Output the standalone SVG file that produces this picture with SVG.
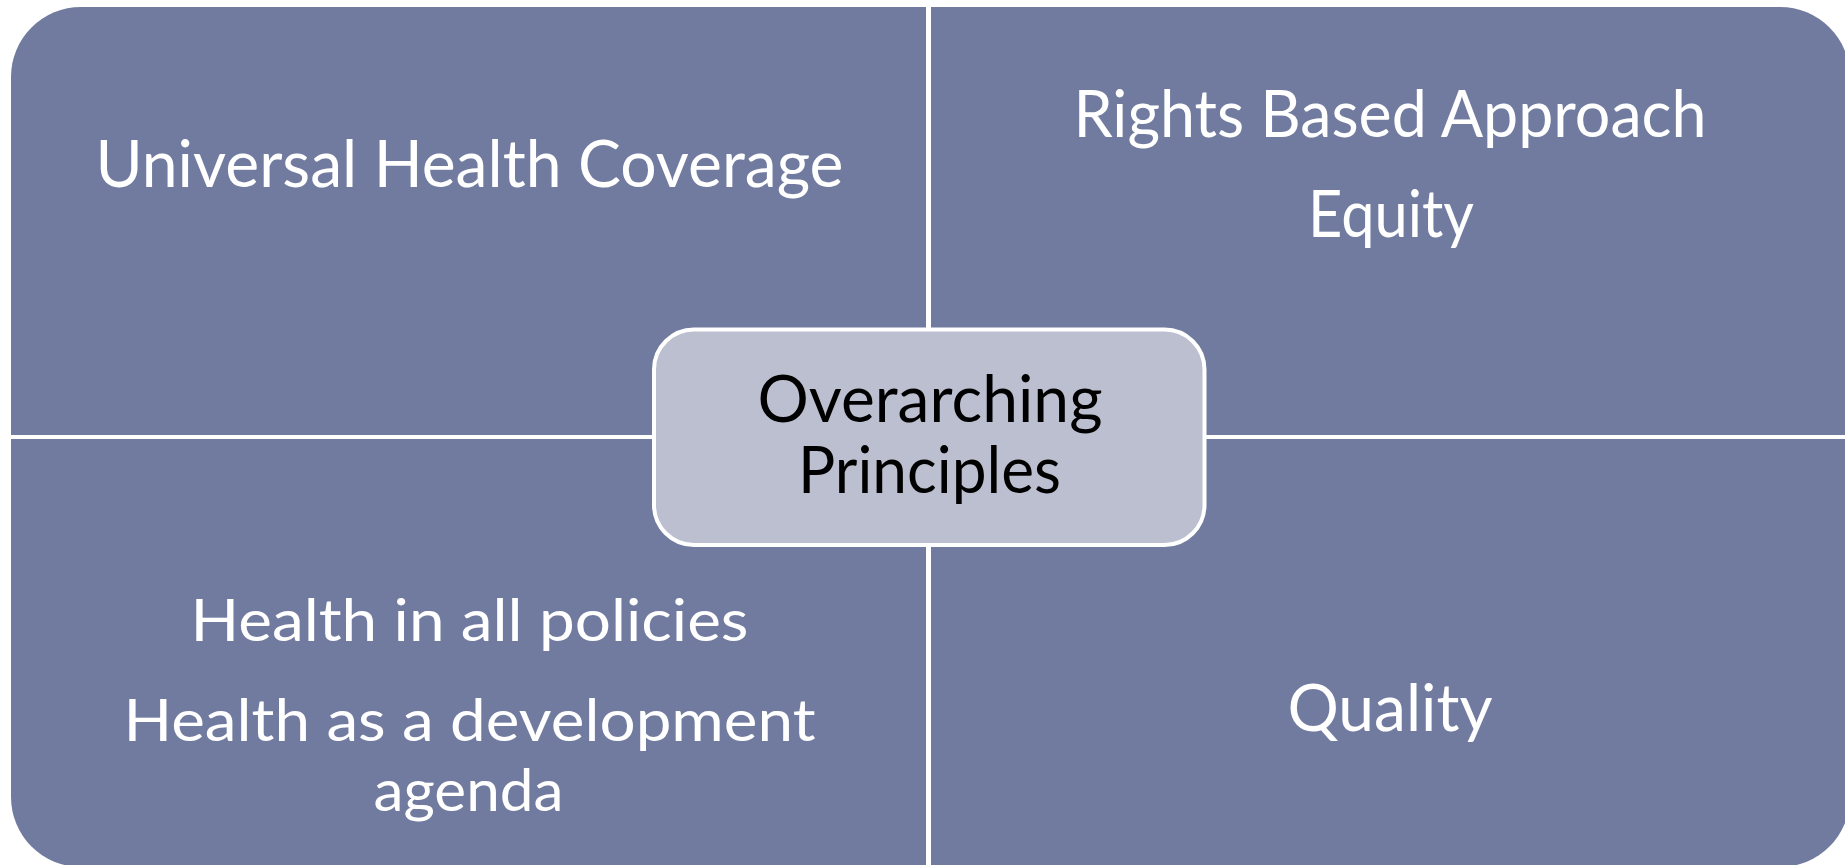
<svg xmlns="http://www.w3.org/2000/svg" width="1845" height="865" viewBox="0 0 1845 865">
<style>
.q{fill:#717B9F;}
.t{font-family:Lato,"Open Sans","Liberation Sans",sans-serif;font-size:65px;fill:#FFFFFF;text-anchor:middle;}
.s{font-size:58px;}
.c{font-family:Lato,"Open Sans","Liberation Sans",sans-serif;font-size:65px;fill:#000000;text-anchor:middle;}
</style>
<rect width="1845" height="865" fill="#FFFFFF"/>
<g id="quadrant-tl">
<path class="q" d="M11,435 V77 A70,70 0 0 1 81,7 H926 V435 Z"/>
<text class="t" x="469.5" y="187" textLength="748" lengthAdjust="spacingAndGlyphs">Universal Health Coverage</text>
</g>
<g id="quadrant-tr">
<path class="q" d="M931,7 H1780 A70,70 0 0 1 1850,77 V435 H931 Z"/>
<text class="t" x="1390" y="137" textLength="633" lengthAdjust="spacingAndGlyphs">Rights Based Approach</text>
<text class="t" x="1391" y="237" textLength="166" lengthAdjust="spacingAndGlyphs">Equity</text>
</g>
<g id="quadrant-bl">
<path class="q" d="M11,439 H926 V867 H81 A70,70 0 0 1 11,797 Z"/>
<text class="t s" x="469.5" y="641" textLength="558" lengthAdjust="spacingAndGlyphs">Health in all policies</text>
<text class="t s" x="469.5" y="741" textLength="692" lengthAdjust="spacingAndGlyphs">Health as a development</text>
<text class="t s" x="468.5" y="811" textLength="190" lengthAdjust="spacingAndGlyphs">agenda</text>
</g>
<g id="quadrant-br">
<path class="q" d="M931,439 H1850 V797 A70,70 0 0 1 1780,867 H931 Z"/>
<text class="t" x="1390" y="731" textLength="205" lengthAdjust="spacingAndGlyphs">Quality</text>
</g>
<g id="connectors"></g>
<g id="center">
<rect x="654" y="329.5" width="550.5" height="215.5" rx="40" ry="40" fill="#BCBFCF" stroke="#FFFFFF" stroke-width="4"/>
<text class="c" x="930" y="422" textLength="345" lengthAdjust="spacingAndGlyphs">Overarching</text>
<text class="c" x="929.5" y="493" textLength="263" lengthAdjust="spacingAndGlyphs">Principles</text>
</g>
</svg>
